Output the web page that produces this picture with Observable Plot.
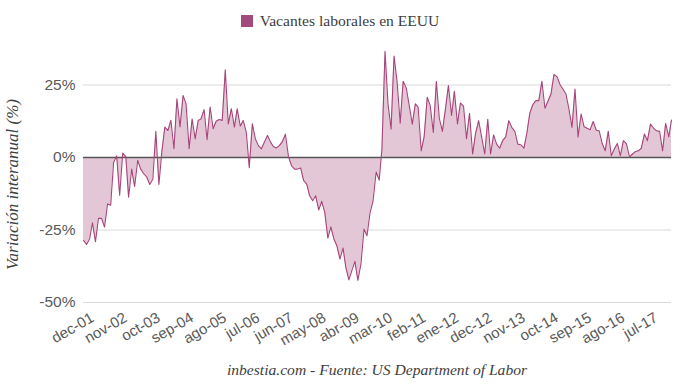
<!DOCTYPE html>
<html><head><meta charset="utf-8">
<script src="https://cdn.jsdelivr.net/npm/d3@7"></script>
<script src="https://cdn.jsdelivr.net/npm/@observablehq/plot@0.6"></script>
<style>
body{margin:0;background:#fff;width:680px;height:385px;overflow:hidden;font-family:"Liberation Serif",serif;position:relative;}
#legend{height:42px;display:flex;align-items:center;justify-content:center;font-size:15.6px;color:#404040;}
.sw{display:inline-block;width:12px;height:12px;background:#a34a7c;margin-right:7px;}
#chart{position:absolute;top:40px;left:0;height:310px;}
#caption{position:absolute;top:361px;left:83px;width:588px;text-align:center;font-style:italic;font-size:15.6px;color:#404040;line-height:18px;}
</style></head><body>
<div id="legend"><span class="sw"></span><span id="legendText"></span></div>
<div id="chart"></div>
<div id="caption"></div>
<script>
const seriesName = "Vacantes laborales en EEUU";
const yTitle = "Variación interanual (%)";
const captionText = "inbestia.com - Fuente: US Department of Labor";
const startMonth = "2001-12-01";
// year-over-year % change, monthly, dec-01 .. mar-18
const values = [
  -28.6, -30, -28, -22.5, -29, -21, -21, -24, -16, -16.5, -1.6, 0.5, -13, 1.5, 0.3, -13.7, -4, -10, -1, -4, -5.6, -6.8, -9.3, -7.4, 9, -9.3, 2.4, 10.5, 9.3, 12.8, 3, 20.2, 10.5,
  21.4, 18.5, 3, 13.3, 6.4, 12.8, 13.3, 16.5, 6.1, 17.4, 9.9, 12.5, 13.1, 12.8, 30.2, 11.6, 16.8, 10.5, 16.8, 10.8, 12.8, 8.7, -3.5, 11.6, 6.4, 4.1, 3, 5.3, 7.6, 5.3, 3.8, 3.3, 4.1,
  5.5, 8, 0.2, -2.9, -4, -4, -3.6, -8, -9.2, -13.2, -14.9, -13.2, -18.1, -15.1, -18.9, -27.8, -23.9, -28.1, -30.4, -35, -31.2, -37.8, -42.2, -39, -35.8, -42.4, -36.7, -24.7, -27, -19, -15, -5, -7.8, 3,
  36.6, 18.5, 9.8, 35, 26, 11.8, 26.3, 24, 18, 11.5, 18.5, 17.4, 2.3, 7.2, 20.8, 17.9, 8.6, 26.2, 13.5, 9, 16.5, 24.8, 14.5, 22.8, 11.6, 18.8, 17.7, 6.5, 15.2, 1.2, 8.3, 12.7,
  7, 1.2, 13.2, 1.2, 7.8, 4.6, 3.2, 5.8, 7.1, 12.7, 10.4, 9, 4.6, 4.4, 3.2, 8.1, 15.2, 18.2, 19.6, 19.6, 26.3, 17, 19.4, 21.9, 28.6, 27.9, 25.1, 23.6, 21.9, 16.7, 10.4, 23.6, 7.1, 15, 10.6, 10.1, 9.6, 12.4, 9.4, 9.2, 4.8, 2.3, 9, 0.6, 2.9, 4.8, 0.6, 5.8, 4.8, 0.2, 1.2, 2, 2.3, 3.2, 8.1, 5.8, 11.5, 10.1, 9.2, 9, 2.3, 11.8, 7.1, 12.9
];
const tickLabels = ["dec-01","nov-02","oct-03","sep-04","ago-05","jul-06","jun-07","may-08","abr-09","mar-10","feb-11","ene-12","dec-12","nov-13","oct-14","sep-15","ago-16","jul-17"];
const tickStepMonths = 11;
const yTicks = [-50, -25, 0, 25];

document.getElementById("legendText").textContent = seriesName;
document.getElementById("caption").textContent = captionText;

const start = new Date(startMonth + "T00:00:00Z");
const data = values.map((v, i) => ({date: d3.utcMonth.offset(start, i), value: v}));
const tickDates = tickLabels.map((_, k) => d3.utcMonth.offset(start, k * tickStepMonths));
const labelByTime = new Map(tickDates.map((d, k) => [+d, tickLabels[k]]));

const chart = Plot.plot({
  width: 680, height: 310,
  marginLeft: 83, marginRight: 9, marginTop: 1, marginBottom: 48,
  style: {fontFamily: "Liberation Sans", fontSize: "15px", color: "#595959", background: "#fff", overflow: "visible"},
  x: {type: "utc", domain: [data[0].date, data[data.length - 1].date]},
  y: {domain: [-50, 40]},
  marks: [
    Plot.ruleY(yTicks, {stroke: "#d9d9d9", strokeWidth: 1}),
    Plot.areaY(data, {x: "date", y: "value", fill: "#e4c7d6"}),
    Plot.ruleY([0], {stroke: "#555", strokeWidth: 1.5}),
    Plot.lineY(data, {x: "date", y: "value", stroke: "#a6457a", strokeWidth: 1.1}),
    Plot.axisY({ticks: yTicks, tickFormat: d => d + "%", tickSize: 0, tickPadding: 8, label: null, fontSize: 15.5}),
    Plot.axisX({ticks: tickDates, tickFormat: d => labelByTime.get(+d), tickSize: 0, tickPadding: 6, tickRotate: -30, label: null, fontSize: 15, dx: 9, dy: 8}),
    Plot.text([yTitle], {y: [-9.3], text: d => d, frameAnchor: "left", textAnchor: "middle", dx: -71, rotate: -90, fontStyle: "italic", fontFamily: "Liberation Serif", fontSize: 17, fill: "#404040"})
  ]
});
document.getElementById("chart").appendChild(chart);
</script>
</body></html>
